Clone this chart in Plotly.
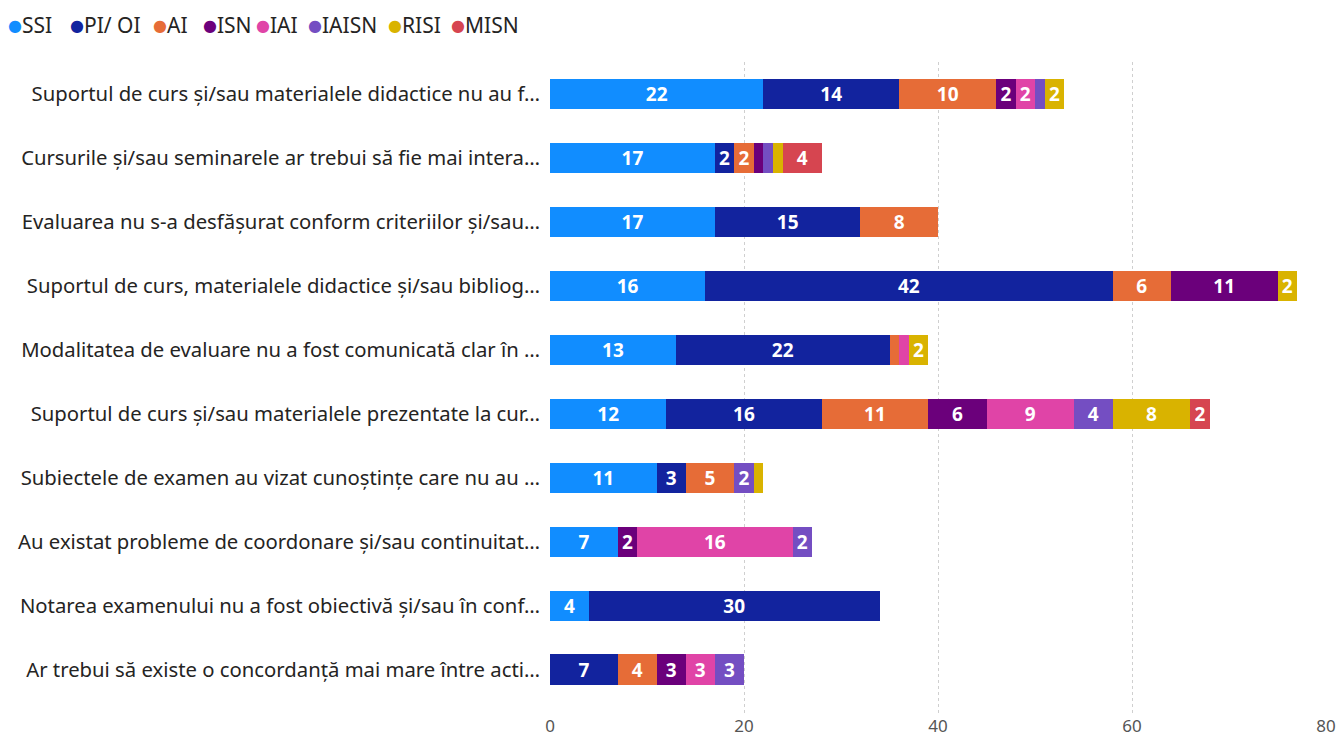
import plotly.graph_objects as go

categories = [
    "Suportul de curs și/sau materialele didactice nu au f…",
    "Cursurile și/sau seminarele ar trebui să fie mai intera…",
    "Evaluarea nu s-a desfășurat conform criteriilor și/sau…",
    "Suportul de curs, materialele didactice și/sau bibliog…",
    "Modalitatea de evaluare nu a fost comunicată clar în …",
    "Suportul de curs și/sau materialele prezentate la cur…",
    "Subiectele de examen au vizat cunoștințe care nu au …",
    "Au existat probleme de coordonare și/sau continuitat…",
    "Notarea examenului nu a fost obiectivă și/sau în conf…",
    "Ar trebui să existe o concordanță mai mare între acti…",
]

SSI   = [22, 17, 17, 16, 13, 12, 11, 7, 4, 0]
PI_OI = [14, 2, 15, 42, 22, 16, 3, 0, 30, 7]
AI    = [10, 2, 8, 6, 1, 11, 5, 0, 0, 4]
ISN   = [2, 1, 0, 11, 0, 6, 0, 2, 0, 3]
IAI   = [2, 0, 0, 0, 1, 9, 0, 16, 0, 3]
IAISN = [1, 1, 0, 0, 0, 4, 2, 2, 0, 3]
RISI  = [2, 1, 0, 2, 2, 8, 1, 0, 0, 0]
MISN  = [0, 4, 0, 0, 0, 2, 0, 0, 0, 0]

series_names = ["SSI", "PI/ OI", "AI", "ISN", "IAI", "IAISN", "RISI", "MISN"]
series_values = [SSI, PI_OI, AI, ISN, IAI, IAISN, RISI, MISN]
colors = ["#118DFF", "#12239E", "#E66C37", "#6B007B", "#E044A7", "#744EC2", "#D9B300", "#D64550"]
legend_widths = [17, 38, 5, 8, 7, 35, 18, 110]

FONT = "Noto Sans, Open Sans, sans-serif"
L, R, T, B = 550, 15, 62, 24
W, H = 1341, 738

fig = go.Figure()
for name, vals, col, lw in zip(series_names, series_values, colors, legend_widths):
    xs = [v if v > 0 else None for v in vals]
    txt = [str(v) if v >= 2 else "" for v in vals]
    fig.add_trace(go.Bar(
        y=categories, x=xs, orientation="h", name=name,
        marker=dict(color=col, line=dict(width=0)),
        text=txt, textposition="inside", insidetextanchor="middle",
        textangle=0, constraintext="none",
        textfont=dict(color="white", size=19, family=FONT, weight="bold"),
        showlegend=False, hoverinfo="x+name",
    ))
    # legend entry: coloured dot glyph + name
    fig.add_trace(go.Scatter(
        x=[None], y=[None], mode="markers",
        name=(f'<span style="color:{col};font-size:16px;font-family:DejaVu Sans;'
              f'baseline-shift:2px">●</span>{name}'),
        marker=dict(color="rgba(0,0,0,0)", size=1),
        showlegend=True, legendwidth=lw,
    ))

plot_w = W - L - R
fig.update_layout(
    barmode="stack",
    bargap=0.52,
    width=W, height=H,
    margin=dict(l=L, r=R, t=T, b=B, autoexpand=False),
    plot_bgcolor="white", paper_bgcolor="white",
    font=dict(family=FONT, color="#333333", size=20),
    legend=dict(
        orientation="h", xref="paper", yref="container",
        x=(-32 - L) / plot_w, y=1 - 5 / H, xanchor="left", yanchor="top",
        font=dict(size=21, color="#252423", family=FONT),
        itemwidth=30, traceorder="normal", tracegroupgap=0,
        bgcolor="rgba(0,0,0,0)",
    ),
    xaxis=dict(
        range=[0, 80], dtick=20, showgrid=True,
        gridcolor="#CFCFCF", griddash="dot", gridwidth=1,
        zeroline=False, showline=False, automargin=False,
        tickfont=dict(size=17, color="#555555"),
        fixedrange=True,
    ),
    yaxis=dict(
        categoryorder="array", categoryarray=categories,
        range=[9.69, -0.5], automargin=False,
        showgrid=False, zeroline=False, showline=False,
        ticks="", ticklabelstandoff=9,
        tickfont=dict(size=20.3, color="#252423"),
    ),
)

fig.write_html("out.html", config={"displayModeBar": False},
               post_script="document.body.style.margin='0';")
